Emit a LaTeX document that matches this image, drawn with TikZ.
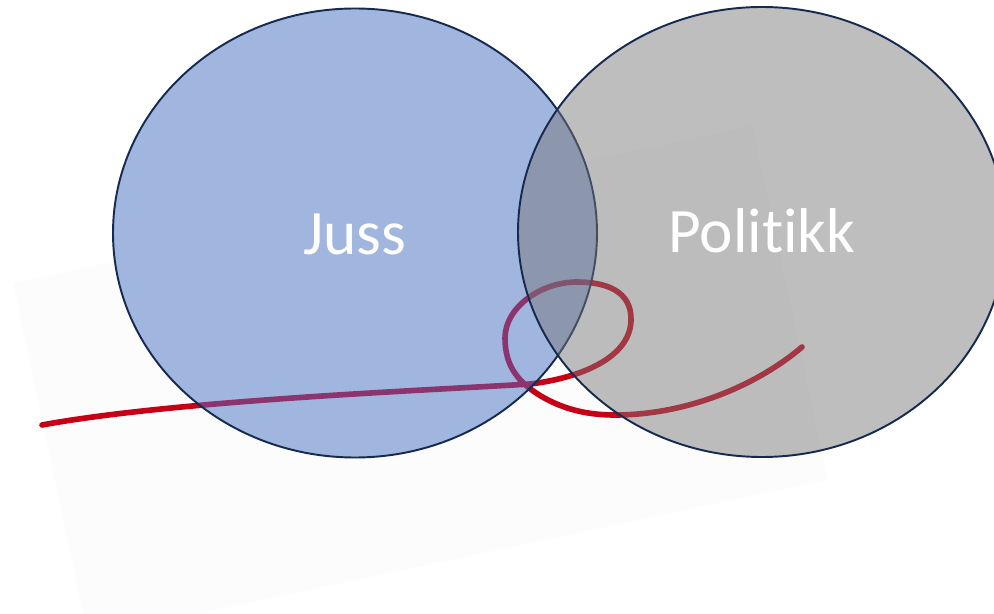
\documentclass[tikz,border=0pt]{standalone}
\usepackage{fontspec}
\setmainfont{Carlito}[Ligatures={NoCommon,NoContextual}]
\usetikzlibrary{positioning}
\definecolor{jussblue}{RGB}{160,182,223}
\definecolor{polgray}{RGB}{119,119,119}
\definecolor{rimnavy}{RGB}{22,42,80}
\definecolor{threadred}{RGB}{200,0,22}
\definecolor{threadpurple}{RGB}{140,52,110}
\definecolor{photogray}{RGB}{252,252,252}
\tikzset{
    every node/.style={inner sep=0pt}
}

\begin{document}
\begin{tikzpicture}[
  thread/.style={line width=3.2pt, line cap=round, line join=round},
  rim/.style={draw=rimnavy, line width=1.1pt},
  setlabel/.style={anchor=base, text=white, font=\fontsize{36}{40}\selectfont}
]
  \useasboundingbox (0,0) rectangle (19.88,12.26);

  % Centres of the two sets
  \coordinate (jussc) at (7.10,7.60);
  \coordinate (polc)  at (15.24,7.62);

  % Photo behind the sets
  \fill[photogray, rotate around={12:(0.26,6.60)}] (0.26,6.60) rectangle ++(15.12,-7.24);

  % Red thread with a loop
  \draw[thread, threadred] (0.84,3.76) .. controls (3.5,4.25) and (8.5,4.45) .. (10.6,4.58)
    .. controls (11.6,4.70) and (12.6,5.10) .. (12.62,5.85)
    .. controls (12.64,6.45) and (12.1,6.62) .. (11.54,6.62)
    .. controls (10.8,6.62) and (10.1,6.10) .. (10.10,5.50)
    .. controls (10.1,4.90) and (10.4,4.60) .. (10.8,4.35)
    .. controls (11.3,4.05) and (11.8,3.96) .. (12.3,3.96)
    .. controls (13.8,3.96) and (15.2,4.60) .. (16.04,5.32);

  % Juss set
  \fill[jussblue] (jussc) ellipse [x radius=4.84, y radius=4.49];
  \begin{scope}
    \clip (jussc) ellipse [x radius=4.84, y radius=4.49];
    \draw[thread, threadpurple] (0.84,3.76) .. controls (3.5,4.25) and (8.5,4.45) .. (10.6,4.58)
      .. controls (11.6,4.70) and (12.6,5.10) .. (12.62,5.85)
      .. controls (12.64,6.45) and (12.1,6.62) .. (11.54,6.62)
      .. controls (10.8,6.62) and (10.1,6.10) .. (10.10,5.50)
      .. controls (10.1,4.90) and (10.4,4.60) .. (10.8,4.35)
      .. controls (11.3,4.05) and (11.8,3.96) .. (12.3,3.96);
  \end{scope}
  \draw[rim] (jussc) ellipse [x radius=4.84, y radius=4.49];

  % Politikk set, see-through
  \fill[polgray, fill opacity=0.48] (polc) ellipse [x radius=4.88, y radius=4.50];
  \draw[rim] (polc) ellipse [x radius=4.88, y radius=4.50];

  % Labels
  \node[setlabel] (juss) at (7.10,7.16) {Juss};
  \node[setlabel] (politikk) at (15.24,7.20) {Poli\kern0pt tikk};
\end{tikzpicture}
\end{document}
